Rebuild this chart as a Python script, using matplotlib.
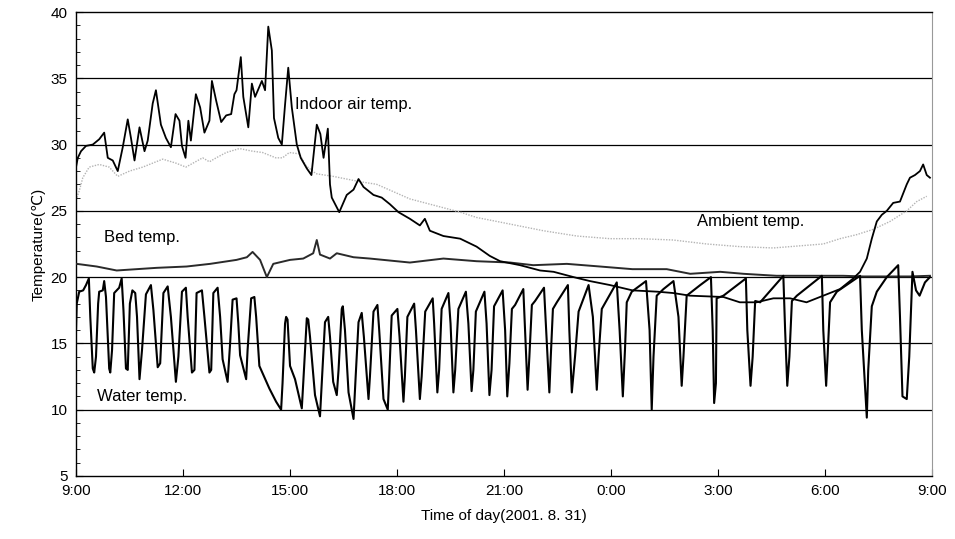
import matplotlib
matplotlib.use("Agg")
import matplotlib.pyplot as plt
import numpy as np
from matplotlib.ticker import MultipleLocator

# hours after 9:00 (2001.8.31), temperature in deg C
water = [
    (0.0, 16.0), (0.02, 18.0), (0.09, 18.9), (0.2, 19.0), (0.28, 19.4), (0.36, 19.9), (0.40, 17.0),
    (0.47, 13.1), (0.51, 12.8), (0.56, 14.0), (0.62, 18.0), (0.65, 18.9), (0.75, 19.0), (0.79, 19.7),
    (0.84, 18.5), (0.93, 13.1), (0.96, 12.8), (1.01, 14.5), (1.07, 18.8), (1.21, 19.2), (1.28, 19.9),
    (1.33, 17.5), (1.40, 13.1), (1.45, 13.0), (1.51, 18.0), (1.58, 19.0), (1.66, 18.8), (1.71, 17.0),
    (1.78, 12.3), (1.85, 14.5), (1.96, 18.7), (2.10, 19.4), (2.17, 17.5), (2.29, 13.2), (2.36, 13.5),
    (2.45, 18.8), (2.57, 19.3), (2.66, 17.0), (2.80, 12.1), (2.87, 14.0), (2.97, 18.9), (3.08, 19.2),
    (3.13, 17.0), (3.25, 12.8), (3.32, 13.0), (3.38, 18.8), (3.53, 19.0), (3.60, 17.0), (3.74, 12.8),
    (3.79, 13.0), (3.85, 18.8), (3.97, 19.2), (4.04, 17.0), (4.11, 13.8), (4.25, 12.1), (4.32, 15.0),
    (4.39, 18.3), (4.50, 18.4), (4.55, 16.5), (4.60, 14.1), (4.77, 12.3), (4.81, 14.5), (4.91, 18.4),
    (5.0, 18.5), (5.05, 17.0), (5.14, 13.3), (5.42, 11.6), (5.61, 10.6), (5.75, 10.0), (5.79, 12.0),
    (5.86, 16.5), (5.89, 17.0), (5.93, 16.8), (6.0, 13.3), (6.14, 12.3), (6.33, 10.1), (6.37, 12.0),
    (6.47, 16.9), (6.51, 16.8), (6.56, 15.5), (6.70, 11.1), (6.84, 9.5), (6.89, 12.0), (6.98, 16.6),
    (7.07, 17.0), (7.12, 15.5), (7.21, 12.1), (7.31, 11.1), (7.36, 13.0), (7.45, 17.6), (7.48, 17.8),
    (7.54, 16.0), (7.64, 11.3), (7.78, 9.3), (7.84, 12.5), (7.92, 16.6), (8.01, 17.3), (8.07, 15.5),
    (8.20, 10.8), (8.24, 12.5), (8.34, 17.4), (8.45, 17.9), (8.50, 16.0), (8.62, 10.8), (8.74, 10.0),
    (8.78, 12.5), (8.85, 17.1), (9.01, 17.6), (9.07, 15.5), (9.18, 10.6), (9.22, 12.5), (9.29, 17.0),
    (9.48, 18.0), (9.53, 16.0), (9.64, 10.8), (9.69, 12.5), (9.79, 17.4), (10.0, 18.4), (10.04, 16.5),
    (10.13, 11.3), (10.18, 13.0), (10.25, 17.6), (10.44, 18.8), (10.50, 16.5), (10.58, 11.3),
    (10.63, 13.0), (10.72, 17.6), (10.93, 18.9), (11.0, 16.5), (11.09, 11.4), (11.14, 13.0),
    (11.21, 17.4), (11.45, 18.9), (11.51, 16.5), (11.59, 11.1), (11.65, 13.0), (11.72, 17.8),
    (11.96, 19.0), (12.03, 16.0), (12.09, 11.0), (12.15, 13.5), (12.22, 17.6), (12.31, 17.9),
    (12.54, 19.1), (12.59, 16.0), (12.66, 11.5), (12.71, 14.0), (12.78, 17.9), (12.87, 18.2),
    (13.12, 19.2), (13.18, 16.0), (13.27, 11.3), (13.31, 14.0), (13.37, 17.6), (13.48, 18.1),
    (13.79, 19.4), (13.83, 16.0), (13.90, 11.3), (13.99, 14.0), (14.09, 17.4), (14.37, 19.4),
    (14.49, 17.0), (14.60, 11.5), (14.65, 14.0), (14.74, 17.6), (15.16, 19.6), (15.24, 16.0),
    (15.33, 11.0), (15.39, 14.5), (15.44, 18.1), (15.58, 18.9), (15.98, 19.7), (16.08, 16.0),
    (16.14, 10.0), (16.19, 14.0), (16.28, 18.6), (16.47, 19.1), (16.75, 19.7), (16.89, 17.0),
    (16.98, 11.8), (17.03, 14.0), (17.12, 18.6), (17.50, 19.4), (17.80, 20.0), (17.85, 16.0),
    (17.89, 10.5), (17.94, 12.0), (17.96, 18.4), (18.15, 18.6), (18.78, 19.9), (18.82, 16.0),
    (18.91, 11.8), (18.97, 14.0), (19.04, 18.2), (19.18, 18.1), (19.83, 20.1), (19.88, 16.0),
    (19.94, 11.8), (20.0, 14.0), (20.07, 18.2), (20.21, 18.6), (20.91, 20.1), (20.95, 16.0),
    (21.03, 11.8), (21.07, 14.0), (21.14, 18.1), (21.33, 18.9), (21.98, 20.1), (22.03, 16.0),
    (22.17, 9.4), (22.21, 13.0), (22.31, 17.8), (22.45, 18.9), (22.73, 20.0), (23.05, 20.9),
    (23.1, 17.0), (23.17, 11.0), (23.29, 10.8), (23.36, 14.0), (23.45, 20.4), (23.55, 19.0),
    (23.65, 18.6), (23.8, 19.6), (23.94, 20.0),
]

indoor = [
    (0.0, 28.3), (0.05, 29.0), (0.14, 29.5), (0.28, 29.9), (0.47, 30.0), (0.65, 30.4), (0.79, 30.9),
    (0.89, 29.0), (1.03, 28.8), (1.17, 28.0), (1.31, 29.8), (1.45, 31.9), (1.54, 30.5), (1.64, 28.8),
    (1.78, 31.3), (1.92, 29.5), (2.01, 30.3), (2.15, 33.1), (2.24, 34.1), (2.38, 31.5), (2.52, 30.5),
    (2.66, 29.8), (2.79, 32.3), (2.90, 31.8), (2.97, 29.9), (3.07, 29.0), (3.15, 31.8), (3.22, 30.3),
    (3.36, 33.8), (3.48, 32.8), (3.60, 30.9), (3.74, 31.8), (3.81, 34.8), (3.93, 33.3), (4.07, 31.7),
    (4.21, 32.2), (4.35, 32.3), (4.44, 33.8), (4.50, 34.1), (4.62, 36.6), (4.69, 33.6), (4.83, 31.3),
    (4.93, 34.6), (5.02, 33.6), (5.21, 34.8), (5.30, 34.1), (5.39, 38.9), (5.49, 37.1), (5.55, 32.0),
    (5.67, 30.5), (5.77, 30.0), (5.86, 33.0), (5.95, 35.8), (6.05, 32.8), (6.19, 30.0), (6.30, 29.0),
    (6.47, 28.2), (6.60, 27.7), (6.75, 31.5), (6.85, 30.8), (6.94, 29.0), (7.06, 31.2), (7.12, 27.0),
    (7.17, 26.0), (7.38, 24.9), (7.59, 26.2), (7.78, 26.6), (7.92, 27.4), (8.06, 26.8), (8.34, 26.2),
    (8.57, 26.0), (8.80, 25.5), (9.04, 24.9), (9.36, 24.4), (9.64, 23.9), (9.78, 24.4), (9.92, 23.5),
    (10.3, 23.1), (10.77, 22.9), (11.23, 22.3), (11.6, 21.6), (11.89, 21.2), (12.45, 20.9),
    (13.01, 20.5), (13.39, 20.4), (13.95, 20.0), (14.41, 19.7), (14.97, 19.4), (15.6, 19.0),
    (16.3, 18.9), (16.74, 18.8), (17.21, 18.6), (18.15, 18.5), (18.61, 18.1), (19.08, 18.1),
    (19.55, 18.4), (20.02, 18.4), (20.48, 18.1), (20.95, 18.6), (21.42, 19.1), (21.79, 19.9),
    (21.98, 20.4), (22.17, 21.4), (22.31, 22.9), (22.45, 24.2), (22.59, 24.7), (22.73, 25.0),
    (22.91, 25.6), (23.10, 25.7), (23.29, 27.0), (23.38, 27.5), (23.52, 27.7), (23.66, 28.0),
    (23.75, 28.5), (23.85, 27.7), (23.94, 27.5),
]

ambient = [
    (0.0, 25.8), (0.1, 26.6), (0.19, 27.5), (0.37, 28.3), (0.65, 28.5), (0.93, 28.3), (1.17, 27.6),
    (1.5, 28.0), (1.87, 28.3), (2.43, 28.9), (2.8, 28.6), (3.08, 28.3), (3.55, 29.0), (3.74, 28.7),
    (3.93, 29.0), (4.21, 29.4), (4.58, 29.7), (4.95, 29.5), (5.23, 29.4), (5.6, 29.0), (5.79, 29.0),
    (5.98, 29.4), (6.26, 29.3), (6.45, 28.4), (6.73, 27.8), (7.21, 27.6), (7.96, 27.2), (8.43, 27.0),
    (9.36, 25.9), (10.77, 24.9), (11.23, 24.5), (12.17, 24.0), (13.10, 23.5), (14.04, 23.1),
    (14.97, 22.9), (15.81, 22.9), (16.74, 22.8), (17.68, 22.5), (18.61, 22.3), (19.55, 22.2),
    (20.02, 22.3), (20.48, 22.4), (20.95, 22.5), (21.42, 22.9), (21.88, 23.2), (22.35, 23.6),
    (22.82, 24.2), (23.29, 25.0), (23.57, 25.7), (23.85, 26.1),
]

bed = [
    (0.02, 21.0), (0.58, 20.8), (1.14, 20.5), (1.70, 20.6), (2.26, 20.7), (3.10, 20.8), (3.76, 21.0),
    (4.50, 21.3), (4.79, 21.5), (4.95, 21.9), (5.16, 21.3), (5.35, 20.0), (5.53, 21.0), (6.0, 21.3),
    (6.37, 21.4), (6.65, 21.8), (6.75, 22.8), (6.84, 21.7), (7.12, 21.4), (7.31, 21.8), (7.78, 21.5),
    (8.24, 21.4), (9.36, 21.1), (10.3, 21.4), (11.23, 21.2), (12.17, 21.1), (12.82, 20.9),
    (13.76, 21.0), (14.69, 20.8), (15.6, 20.6), (16.56, 20.6), (17.22, 20.25), (18.06, 20.4),
    (18.71, 20.25), (19.64, 20.1), (20.58, 20.1), (21.51, 20.1), (22.08, 20.05), (22.63, 20.05),
    (23.38, 20.05), (23.94, 20.1),
]

tick_hours = [0, 3, 6, 9, 12, 15, 18, 21, 24]
tick_labels = ["9:00", "12:00", "15:00", "18:00", "21:00", "0:00", "3:00", "6:00", "9:00"]

plt.rcParams['font.family'] = ['Liberation Sans', 'DejaVu Sans']

fig = plt.figure(figsize=(9.55, 5.39), dpi=100)
ax = fig.add_axes([0.0796, 0.117, 0.8964, 0.8607])

for y in [10, 15, 20, 25, 30, 35]:
    ax.axhline(y, color='black', lw=0.9, zorder=1)

h, t = np.array(ambient).T
ax.plot(h, t, color='#b4b4b4', lw=1.0, ls=(0, (1, 1)), zorder=2)
h, t = np.array(bed).T
ax.plot(h, t, color='#2a2a2a', lw=1.4, zorder=3)
h, t = np.array(indoor).T
ax.plot(h, t, color='black', lw=1.3, zorder=4)
h, t = np.array(water).T
ax.plot(h, t, color='black', lw=1.5, zorder=5)

ax.text(6.15, 33.0, "Indoor air temp.", fontsize=12, va='center')
ax.text(17.4, 24.2, "Ambient temp.", fontsize=12, va='center')
ax.text(0.78, 23.0, "Bed temp.", fontsize=12, va='center')
ax.text(0.59, 11.0, "Water temp.", fontsize=12, va='center')

ax.set_xlim(0, 24)
ax.set_ylim(5, 40)
ax.set_xticks(tick_hours)
ax.set_xticklabels(tick_labels)
ax.yaxis.set_major_locator(MultipleLocator(5))
ax.yaxis.set_minor_locator(MultipleLocator(1))
ax.tick_params(axis='both', which='major', direction='in', length=5, labelsize=11, pad=6)
ax.tick_params(axis='y', which='minor', direction='in', length=3)
ax.spines['right'].set_color('#999999')
ax.spines['right'].set_linestyle((0, (2, 1)))
for s in ['left', 'bottom', 'top']:
    ax.spines[s].set_linewidth(1.0)

ax.set_xlabel("Time of day(2001. 8. 31)", fontsize=11, labelpad=8)
ax.set_ylabel("Temperature(\u2103)", fontsize=11, labelpad=4)

fig.savefig("out.png", dpi=100)
